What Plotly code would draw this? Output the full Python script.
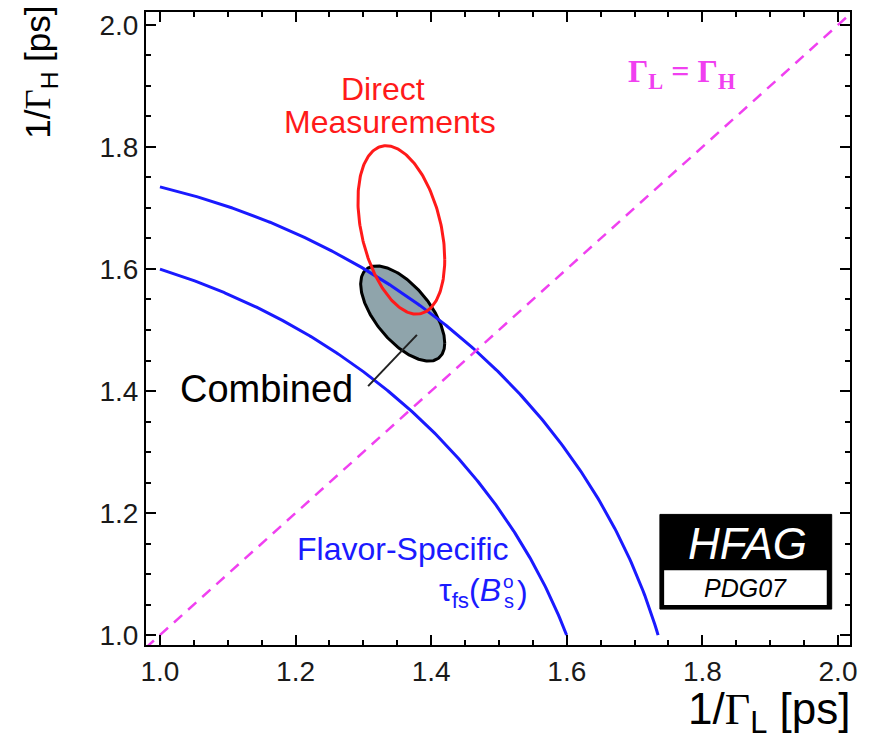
import numpy as np
import plotly.graph_objects as go

# ---- data ----
# flavor-specific lifetime band (ps): tau_fs = (tL^2 + tH^2)/(tL + tH)
tau_fs_band = [1.369, 1.466]
# direct measurements contour: centre, sigmas, correlation
direct = dict(cx=1.356, cy=1.664, sx=0.064, sy=0.138, rho=-0.35)
# combined contour
combined = dict(cx=1.358, cy=1.527, sx=0.062, sy=0.078, rho=-0.62)
# Gamma_L = Gamma_H diagonal end points
diag = [0.979, 2.02]
# pointer from "Combined" label to its contour
pointer_x = [1.379, 1.307]
pointer_y = [1.492, 1.408]

x_range = [0.9794, 2.0177]
y_range = [0.9837, 2.0212]

FONT = "Liberation Sans"


def px2x(px):
    return 1 + (px - 160) / 678


def py2y(py):
    return 1 + (635 - py) / 612


def ellipse(p, n=240):
    t = np.linspace(0, 2 * np.pi, n)
    th = np.arccos(p["rho"])
    return p["cx"] + p["sx"] * np.cos(t), p["cy"] + p["sy"] * np.cos(t - th)


def fs_curve(c, n=300):
    tl_max = (c + np.sqrt(c * c - 4 * (1 - c))) / 2
    tl = np.linspace(1.0, tl_max, n)
    th = (c + np.sqrt(np.maximum(c * c - 4 * (tl * tl - c * tl), 0))) / 2
    return tl, th


fig = go.Figure()

# combined (filled)
ex, ey = ellipse(combined)
fig.add_trace(go.Scatter(x=ex, y=ey, mode="lines", fill="toself",
                         fillcolor="#8fa4ab", line=dict(color="black", width=3),
                         hoverinfo="skip", showlegend=False))

# flavor-specific curves
for c in tau_fs_band:
    cx, cy = fs_curve(c)
    fig.add_trace(go.Scatter(x=cx, y=cy, mode="lines",
                             line=dict(color="#1a1aff", width=3),
                             hoverinfo="skip", showlegend=False))

# direct measurements
dx, dy = ellipse(direct)
fig.add_trace(go.Scatter(x=dx, y=dy, mode="lines",
                         line=dict(color="#ff1a1a", width=3),
                         hoverinfo="skip", showlegend=False))

# diagonal
fig.add_trace(go.Scatter(x=diag, y=diag, mode="lines",
                         line=dict(color="#f040f0", width=2.5, dash="11px,8px"),
                         hoverinfo="skip", showlegend=False))

# pointer
fig.add_trace(go.Scatter(x=pointer_x, y=pointer_y, mode="lines",
                         line=dict(color="#222222", width=2),
                         hoverinfo="skip", showlegend=False))

axis_common = dict(
    showline=True, linecolor="black", linewidth=2, mirror="allticks",
    ticks="inside", ticklen=10, tickwidth=2, tickcolor="black",
    tick0=1.0, dtick=0.2, tickformat=".1f", showgrid=False, zeroline=False,
    tickfont=dict(family=FONT, size=28, color="#1a1a1a"),
    minor=dict(dtick=0.05, ticks="inside", ticklen=5, tickwidth=1.5, tickcolor="black"),
)

fig.update_xaxes(range=x_range, **axis_common)
fig.update_yaxes(range=y_range, **axis_common)

G = "<span style='font-family:Liberation Serif'>Γ</span>"
BLUE = "#1a1aff"
RED = "#ff1a1a"


def ann(text, px, py, size, color, family=FONT, xanchor="center"):
    return dict(text=text, x=px2x(px), y=py2y(py), xref="x", yref="y",
                xanchor=xanchor, yanchor="middle", showarrow=False,
                font=dict(family=family, size=size, color=color))


annotations = [
    ann("Direct", 383, 87, 32, RED),
    ann("Measurements", 390, 120, 32, RED),
    ann("<b>" + G + "<sub>L</sub> = " + G + "<sub>H</sub></b>", 682, 72, 32, "#f040f0",
        family="Liberation Serif"),
    ann("Combined", 267, 388, 38, "black"),
    ann("Flavor-Specific", 403, 549, 32, BLUE),
    ann("τ<sub>fs</sub>(<i>B</i>", 503, 592, 32, BLUE, xanchor="right"),
    ann("o", 509, 581, 19, BLUE),
    ann("s", 509, 601, 20, BLUE),
    ann(")", 515, 592, 32, BLUE, xanchor="left"),
    # axis titles
    dict(text="1/" + G + "<sub>L</sub> [ps]", x=1.003, y=-0.1055, xref="paper", yref="paper",
         xanchor="right", yanchor="middle", showarrow=False,
         font=dict(family=FONT, size=44, color="black")),
    dict(text="1/" + G + "<sub>H</sub> [ps]", x=-0.1506, y=0.9055, xref="paper", yref="paper",
         textangle=-90, xanchor="center", yanchor="middle", showarrow=False,
         font=dict(family=FONT, size=35, color="black")),
    # HFAG logo
    dict(text="<i>HFAG</i>", x=0.855, y=0.1606, xref="paper", yref="paper",
         xanchor="center", yanchor="middle",
         showarrow=False, font=dict(family=FONT, size=44, color="white")),
    dict(text="<i>PDG07</i>", x=0.852, y=0.0898, xref="paper", yref="paper",
         xanchor="center", yanchor="middle",
         showarrow=False, font=dict(family=FONT, size=25, color="black")),
]

shapes = [
    dict(type="rect", xref="paper", yref="paper", x0=0.730, x1=0.974, y0=0.0567, y1=0.2063,
         fillcolor="black", line=dict(color="black", width=1), layer="above"),
    dict(type="rect", xref="paper", yref="paper", x0=0.736, x1=0.967, y0=0.063, y1=0.118,
         fillcolor="white", line=dict(color="white", width=0), layer="above"),
]

fig.update_layout(
    width=890, height=740,
    margin=dict(l=146, r=40, t=10, b=95),
    paper_bgcolor="white", plot_bgcolor="white",
    annotations=annotations, shapes=shapes, showlegend=False,
)

fig.write_html("out.html")
